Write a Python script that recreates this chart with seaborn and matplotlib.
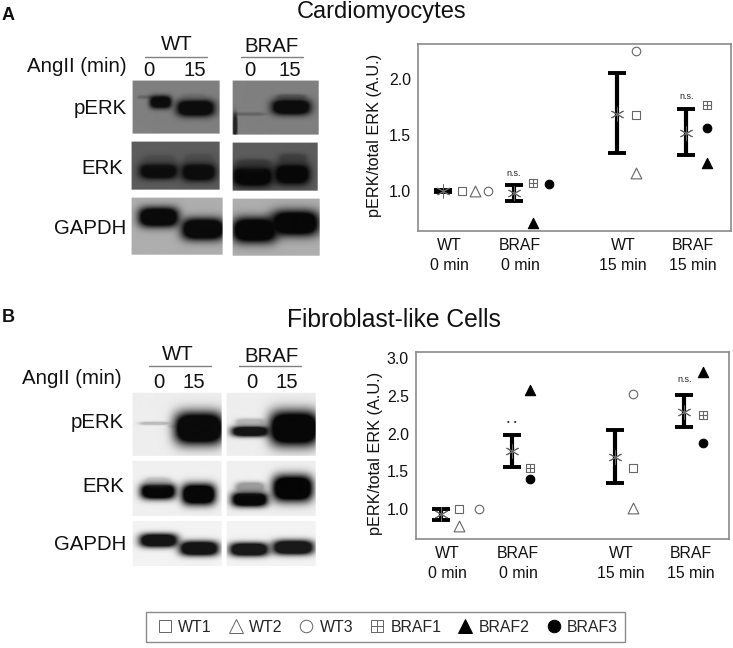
import numpy as np
import pandas as pd
import matplotlib
matplotlib.use('Agg')
import matplotlib.pyplot as plt
from matplotlib.lines import Line2D
from matplotlib.legend_handler import HandlerTuple
import seaborn as sns

W, H = 733, 648

samples = ['WT1', 'WT2', 'WT3', 'BRAF1', 'BRAF2', 'BRAF3']
groups = ['WT\n0 min', 'BRAF\n0 min', 'WT\n15 min', 'BRAF\n15 min']

# cardiomyocytes
a_means = [1.00, 0.98, 1.69, 1.52]
a_low = [0.995, 0.91, 1.34, 1.32]
a_high = [1.005, 1.05, 2.05, 1.73]
a_wt1 = [1.00, 1.68]
a_wt2 = [1.00, 1.16]
a_wt3 = [1.00, 2.25]
a_braf1 = [1.07, 1.77]
a_braf2 = [0.71, 1.25]
a_braf3 = [1.06, 1.56]

# fibroblast-like cells
b_means = [0.93, 1.77, 1.69, 2.29]
b_low = [0.86, 1.56, 1.34, 2.09]
b_high = [1.00, 1.98, 2.05, 2.51]
b_wt1 = [1.00, 1.54]
b_wt2 = [0.78, 1.01]
b_wt3 = [1.00, 2.52]
b_braf1 = [1.55, 2.24]
b_braf2 = [2.58, 2.82]
b_braf3 = [1.40, 1.88]

group_pos = np.array([0, 1, 2.45, 3.43])
bar_shift = -0.09
GREY = '#666666'

# blot panels: x0, x1, y0, y1, background grey (figure pixels)
blot_panels = [
    (133, 220, 82, 135, 0.50), (233, 319, 82, 136, 0.50),
    (132, 220, 143, 191, 0.36), (233, 318, 144, 192, 0.36),
    (132, 223, 199, 256, 0.68), (233, 320, 200, 257, 0.68),
    (133, 222, 394, 457, 0.93), (227, 316, 394, 457, 0.93),
    (133, 222, 462, 517, 0.94), (227, 316, 462, 517, 0.94),
    (133, 222, 522, 567, 0.95), (227, 316, 522, 567, 0.95),
]
# bands: x0, x1, y centre, height, grey, strength
blot_bands = [
    (138, 152, 98, 3, 0.20, 0.35), (150, 171, 103, 12, 0.05, 1.0),
    (177, 214, 109, 16, 0.05, 1.0), (183, 205, 98, 6, 0.35, 0.3),
    (233, 264, 115, 3, 0.20, 0.35), (272, 310, 108, 15, 0.05, 1.0),
    (277, 305, 98, 5, 0.20, 0.5), (233, 237, 127, 22, 0.05, 0.8),
    (140, 177, 172, 15, 0.05, 1.0), (182, 215, 173, 17, 0.05, 1.0),
    (143, 175, 161, 10, 0.22, 0.4), (185, 213, 160, 10, 0.22, 0.4),
    (233, 272, 177, 20, 0.03, 1.0), (275, 309, 175, 20, 0.03, 1.0),
    (237, 270, 165, 9, 0.18, 0.6), (279, 306, 160, 10, 0.18, 0.6),
    (139, 178, 218, 19, 0.04, 1.0), (182, 224, 230, 21, 0.04, 1.0),
    (233, 276, 231, 24, 0.03, 1.0), (272, 318, 224, 24, 0.03, 1.0),
    (140, 168, 424, 3, 0.45, 0.4), (168, 176, 427, 3, 0.65, 0.3),
    (175, 223, 429, 31, 0.04, 1.0), (232, 268, 432, 10, 0.08, 1.0),
    (236, 264, 423, 7, 0.50, 0.5), (270, 318, 429, 33, 0.03, 1.0),
    (141, 175, 492, 15, 0.03, 1.0), (182, 215, 495, 20, 0.03, 1.0),
    (145, 170, 482, 8, 0.55, 0.4), (232, 267, 500, 14, 0.03, 1.0),
    (236, 264, 488, 10, 0.40, 0.6), (273, 312, 489, 25, 0.02, 1.0),
    (140, 177, 541, 13, 0.08, 1.0), (180, 218, 549, 14, 0.08, 1.0),
    (230, 268, 550, 13, 0.10, 1.0), (273, 313, 548, 14, 0.10, 1.0),
]

texts = [
    ('A', 2, 16, 'left', 13, 'bold'), ('B', 2, 318, 'left', 13, 'bold'),
    ('Cardiomyocytes', 382, 12, 'center', 17, 'normal'),
    ('Fibroblast-like Cells', 394, 320, 'center', 17.7, 'normal'),
    ('WT', 177, 45, 'center', 14.7, 'normal'), ('BRAF', 272, 47, 'center', 14.7, 'normal'),
    ('AngII (min)', 127, 67, 'right', 14.7, 'normal'),
    ('0', 149, 71, 'center', 14.7, 'normal'), ('15', 195, 71, 'center', 14.7, 'normal'),
    ('0', 250, 71, 'center', 14.7, 'normal'), ('15', 290, 71, 'center', 14.7, 'normal'),
    ('pERK', 127, 108, 'right', 14.7, 'normal'), ('ERK', 123, 168, 'right', 14.7, 'normal'),
    ('GAPDH', 126, 229, 'right', 14.7, 'normal'),
    ('WT', 178, 355, 'center', 14.7, 'normal'), ('BRAF', 272, 357, 'center', 14.7, 'normal'),
    ('AngII (min)', 122, 379, 'right', 14.7, 'normal'),
    ('0', 159, 383, 'center', 14.7, 'normal'), ('15', 194, 383, 'center', 14.7, 'normal'),
    ('0', 252, 383, 'center', 14.7, 'normal'), ('15', 287, 383, 'center', 14.7, 'normal'),
    ('pERK', 124, 422, 'right', 14.7, 'normal'), ('ERK', 124, 487, 'right', 14.7, 'normal'),
    ('GAPDH', 126, 544, 'right', 14.7, 'normal'),
]
rules = [(145, 207, 57), (241, 303, 57), (149, 211, 366), (239, 301, 366)]

sample_style = {
    'WT1': dict(marker='s', s=34, color='white', edgecolor=GREY),
    'WT2': dict(marker='^', s=60, color='white', edgecolor=GREY),
    'WT3': dict(marker='o', s=38, color='white', edgecolor=GREY),
    'BRAF1': dict(marker='s', s=34, color='white', edgecolor=GREY),
    'BRAF2': dict(marker='^', s=55, color='black', edgecolor='black'),
    'BRAF3': dict(marker='o', s=38, color='black', edgecolor='black'),
}


def blot_image():
    img = np.ones((H, W))
    yy, xx = np.mgrid[0:H, 0:W]
    for x0, x1, y0, y1, grey in blot_panels:
        img[y0:y1, x0:x1] = grey
        panel = img[y0:y1, x0:x1]
        px, py = xx[y0:y1, x0:x1], yy[y0:y1, x0:x1]
        for bx0, bx1, yc, h, g, strength in blot_bands:
            if not (x0 - 2 <= (bx0 + bx1) / 2 <= x1 + 2 and y0 <= yc <= y1):
                continue
            dx = (px - (bx0 + bx1) / 2) / ((bx1 - bx0) / 2)
            dy = (py - yc) / (h / 2)
            a = strength * np.clip(1.7 * np.exp(-(np.abs(dx) ** 4 + np.abs(dy) ** 2.5) * 0.9), 0, 1)
            panel[:] = panel * (1 - a) + g * a
    return img


def draw_panel(rect, ylim, yticks, means, low, high, values, offsets, notes, label_xy):
    ax = fig.add_axes([rect[0] / W, 1 - rect[3] / H, (rect[2] - rect[0]) / W, (rect[3] - rect[1]) / H])
    rows = []
    for name, vals in zip(samples, values):
        first = 0 if name.startswith('WT') else 1
        for k, v in zip((first, first + 2), vals):
            rows.append((name, group_pos[k] + offsets[name][k], v))
    df = pd.DataFrame(rows, columns=['sample', 'x', 'value'])

    bar_x = group_pos + bar_shift
    ax.errorbar(bar_x, means, yerr=[np.array(means) - low, np.array(high) - means], fmt='none',
                ecolor='black', elinewidth=3.0, capsize=6.2, capthick=2.8, zorder=2)
    sns.scatterplot(x=bar_x, y=means, marker=(6, 2, 0), s=90, color=GREY, linewidth=0.7, ax=ax, zorder=3)
    for name in samples:
        part = df[df['sample'] == name]
        sns.scatterplot(data=part, x='x', y='value', linewidth=0.8, ax=ax, zorder=3, **sample_style[name])
        if name == 'BRAF1':
            sns.scatterplot(data=part, x='x', y='value', marker='+', s=34, color=GREY, linewidth=0.8, ax=ax, zorder=4)
    for gi, yval, txt, size in notes:
        ax.text(group_pos[gi] + bar_shift, yval, txt, ha='center', va='center', fontsize=size, color='#222222')

    ax.set_xlim(-0.437, 3.97)
    ax.set_ylim(*ylim)
    ax.set_xticks(group_pos)
    ax.set_xticklabels(groups, linespacing=1.4)
    ax.set_yticks(yticks)
    ax.set_yticklabels([f'{t:.1f}' for t in yticks])
    ax.tick_params(axis='both', labelsize=11.4, labelcolor='#111111', length=2.5, width=0.8, color='#888888', pad=2.5)
    ax.set_xlabel('')
    ax.set_ylabel('pERK/total ERK (A.U.)', fontsize=11.7, color='#111111')
    ax.yaxis.set_label_coords(*label_xy)
    for sp in ax.spines.values():
        sp.set_visible(True)
        sp.set_color('#8a8a8a')
        sp.set_linewidth(1.2)
    return ax


sns.set_style('white')
plt.rcParams['font.family'] = ['Liberation Sans', 'DejaVu Sans']

fig = plt.figure(figsize=(W / 100, H / 100), dpi=100)

bg = fig.add_axes([0, 0, 1, 1])
bg.imshow(blot_image(), cmap='gray', vmin=0, vmax=1, aspect='auto', interpolation='bilinear')
bg.set_xlim(0, W)
bg.set_ylim(H, 0)
bg.axis('off')
for x0, x1, y in rules:
    bg.plot([x0, x1], [y, y], color='#808080', lw=1.0)
for txt, x, y, ha, size, weight in texts:
    bg.text(x, y, txt, ha=ha, va='center', fontsize=size, fontweight=weight, color='#111111')

a_offsets = {
    'WT1': {0: 0.18, 2: 0.18}, 'WT2': {0: 0.37, 2: 0.18}, 'WT3': {0: 0.55, 2: 0.18},
    'BRAF1': {1: 0.18, 3: 0.2}, 'BRAF2': {1: 0.18, 3: 0.2}, 'BRAF3': {1: 0.41, 3: 0.2},
}
b_offsets = {
    'WT1': {0: 0.17, 2: 0.17}, 'WT2': {0: 0.17, 2: 0.17}, 'WT3': {0: 0.45, 2: 0.17},
    'BRAF1': {1: 0.17, 3: 0.17}, 'BRAF2': {1: 0.17, 3: 0.17}, 'BRAF3': {1: 0.17, 3: 0.17},
}

draw_panel((418, 44, 731, 231), (0.643, 2.3125), [1.0, 1.5, 2.0], a_means, a_low, a_high,
           [a_wt1, a_wt2, a_wt3, a_braf1, a_braf2, a_braf3], a_offsets,
           [(1, 1.16, 'n.s.', 6.5), (3, 1.84, 'n.s.', 6.5)], (-0.115, 0.513))
draw_panel((416, 352, 729, 539), (0.603, 3.08), [1.0, 1.5, 2.0, 2.5, 3.0], b_means, b_low, b_high,
           [b_wt1, b_wt2, b_wt3, b_braf1, b_braf2, b_braf3], b_offsets,
           [(1, 2.15, '•  •', 5.5), (3, 2.72, 'n.s.', 6.5)], (-0.105, 0.46))

handles = []
for name in samples:
    st = sample_style[name]
    base = Line2D([], [], ls='', marker=st['marker'], ms=9 if st['marker'] != '^' else 10.5,
                  mfc=st['color'], mec=st['edgecolor'], mew=0.7)
    if name == 'BRAF1':
        base = (base, Line2D([], [], ls='', marker='+', ms=9, color=GREY, mew=0.7))
    handles.append(base)
fig.legend(handles, samples, ncols=6, loc='center', bbox_to_anchor=(385.5 / W, 1 - 627 / H),
           fontsize=11.4, frameon=True, fancybox=False, edgecolor='#8a8a8a', framealpha=1,
           handletextpad=0.1, columnspacing=0.75, handlelength=1.5, borderpad=0.45,
           handler_map={tuple: HandlerTuple(ndivide=1)})

fig.savefig('out.png', dpi=100)
